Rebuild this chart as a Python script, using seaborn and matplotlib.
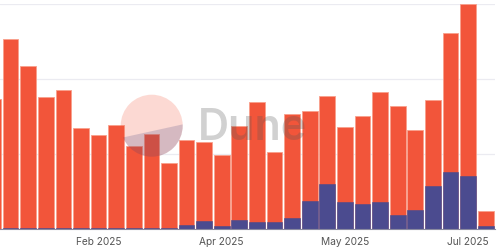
import matplotlib
matplotlib.use("Agg")
import matplotlib.pyplot as plt
import seaborn as sns
import pandas as pd
from matplotlib.patches import Circle, Polygon

# ---- data (weekly) ----
weeks = pd.date_range("2025-01-06", periods=29, freq="W-MON")
week_labels = [d.strftime("%Y-%m-%d") for d in weeks]
orange_part = [518, 757, 650, 524, 554, 397, 370, 411, 327, 375, 260, 340, 316, 283, 378,
               480, 280, 417, 360, 352, 299, 353, 442, 435, 320, 345, 557, 688, 60]
blue_part = [2, 3, 3, 3, 3, 6, 6, 6, 6, 6, 4, 17, 31, 13, 35,
             27, 27, 44, 112, 181, 108, 100, 107, 56, 75, 171, 227, 211, 12]
totals = [o + b for o, b in zip(orange_part, blue_part)]
tick_idx = [6, 13, 20, 27]
tick_labels = [weeks[i].strftime("%b %Y") for i in tick_idx]

df = pd.DataFrame({"week": week_labels, "total": totals, "blue": blue_part})

ORANGE = "#f2553a"
BLUE = "#4b4b8f"

sns.set_theme(style="white")
plt.rcParams["font.family"] = ["Inter", "DejaVu Sans"]

fig = plt.figure(figsize=(5.0, 2.51), dpi=100)
ax = fig.add_axes([0.0, 21 / 251, 495 / 500, 225 / 251])

sns.barplot(data=df, x="week", y="total", color=ORANGE, width=0.89, saturation=1,
            edgecolor="#f8a08c", linewidth=0.6, ax=ax, zorder=2)
sns.barplot(data=df, x="week", y="blue", color=BLUE, width=0.89, saturation=1,
            edgecolor=BLUE, linewidth=0.4, ax=ax, zorder=3)

ax.set_xlim(0.40, 28.53)
ax.set_ylim(0, 900)
ax.set_yticks([0, 300, 600, 900])
ax.set_yticklabels([])
ax.yaxis.grid(True, color="#ebebf1", linewidth=0.9, zorder=0)
ax.set_axisbelow(True)
ax.set_xticks(tick_idx)
ax.set_xticklabels(tick_labels, fontsize=7.3, color="#555555")
ax.tick_params(axis="x", length=0, pad=5)
ax.tick_params(axis="y", length=0)
ax.set_xlabel("")
ax.set_ylabel("")
for s in ["left", "right", "top"]:
    ax.spines[s].set_visible(False)
ax.spines["bottom"].set_color("#8a8aa0")
ax.spines["bottom"].set_linewidth(0.8)
ax.spines["bottom"].set_zorder(4)

# ---- watermark overlay (pixel coordinates) ----
ov = fig.add_axes([0, 0, 1, 1], zorder=10)
ov.set_xlim(0, 500)
ov.set_ylim(251, 0)
ov.axis("off")
ov.patch.set_alpha(0)
circ = Circle((151.7, 126.7), 31, facecolor="#f2553a", alpha=0.22, edgecolor="none")
ov.add_patch(circ)
lower = Polygon([(100, 143.5), (200, 121.6), (200, 170), (100, 170)], closed=True,
                facecolor="#3d3d7a", alpha=0.2, edgecolor="none")
ov.add_patch(lower)
lower.set_clip_path(circ)
ov.text(198, 140, "Dune", fontsize=31, fontweight="semibold", color="#555555", alpha=0.27,
        ha="left", va="baseline", family=["Inter", "DejaVu Sans"])

fig.savefig("out.png", dpi=100)
